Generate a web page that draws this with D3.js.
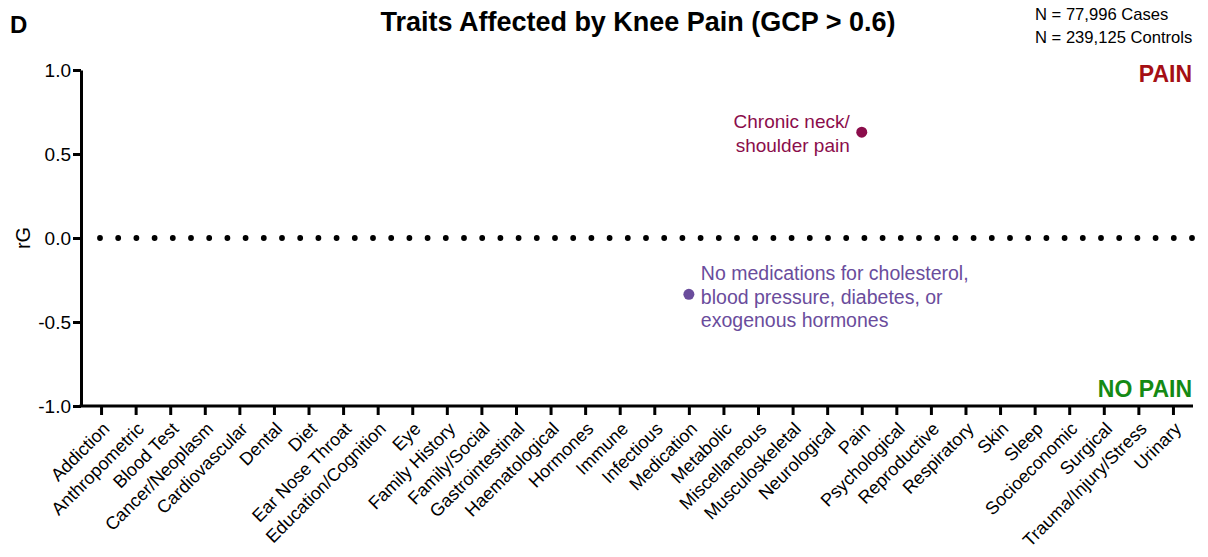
<!DOCTYPE html>
<html>
<head>
<meta charset="utf-8">
<script src="https://cdn.jsdelivr.net/npm/d3@7"></script>
<style>
  body { margin: 0; background: #fff; }
  svg { font-family: "Liberation Sans", Arial, sans-serif; }
</style>
</head>
<body>
<svg id="chart" width="1208" height="557"></svg>
<script>
// categories along the x axis
const categories = ["Addiction", "Anthropometric", "Blood Test", "Cancer/Neoplasm", "Cardiovascular",
  "Dental", "Diet", "Ear Nose Throat", "Education/Cognition", "Eye", "Family History",
  "Family/Social", "Gastrointestinal", "Haematological", "Hormones", "Immune", "Infectious",
  "Medication", "Metabolic", "Miscellaneous", "Musculoskeletal", "Neurological", "Pain",
  "Psychological", "Reproductive", "Respiratory", "Skin", "Sleep", "Socioeconomic", "Surgical",
  "Trauma/Injury/Stress", "Urinary"];

// significant traits (category, rG, label lines)
const traitCats = ["Pain", "Medication"];
const traitRg = [0.63, -0.335];
const traitLabels = [
  ["Chronic neck/", "shoulder pain"],
  ["No medications for cholesterol,", "blood pressure, diabetes, or", "exogenous hormones"]
];
const traitColors = ["#8b0d4b", "#6a4c9c"];

const yTicks = [1.0, 0.5, 0.0, -0.5, -1.0];

const svg = d3.select("#chart");
const mLeft = 81, mRight = 1193, mTop = 70, mBottom = 406;
const FONT = "Liberation Sans, Arial, sans-serif";

const x = d3.scalePoint().domain(categories).range([mLeft, mRight]).padding(0.58);
const y = d3.scaleLinear().domain([-1, 1]).range([mBottom, mTop]);

// y axis
const yAxis = svg.append("g")
  .attr("transform", `translate(${mLeft},0)`)
  .call(d3.axisLeft(y).tickValues(yTicks).tickFormat(d => d.toFixed(1)).tickSize(8).tickSizeOuter(0));
yAxis.select(".domain").attr("stroke", "#000").attr("stroke-width", 3);
yAxis.selectAll(".tick line").attr("stroke", "#000").attr("stroke-width", 3);
yAxis.selectAll(".tick text").attr("font-size", 19).attr("font-family", FONT)
  .attr("fill", "#000").attr("x", -10).attr("dy", "0.35em");

// x axis
const xAxis = svg.append("g")
  .attr("transform", `translate(0,${mBottom})`)
  .call(d3.axisBottom(x).tickSize(9).tickSizeOuter(0));
xAxis.select(".domain").attr("stroke", "#000").attr("stroke-width", 3)
  .attr("d", `M${mLeft - 1.5},0H${mRight}`);
xAxis.selectAll(".tick line").attr("stroke", "#000").attr("stroke-width", 3);
xAxis.selectAll(".tick text")
  .attr("font-size", 18).attr("font-family", FONT).attr("fill", "#000")
  .attr("text-anchor", "end").attr("dy", null).attr("y", null)
  .attr("transform", "translate(9,24) rotate(-45)");

// dotted zero line
svg.append("line")
  .attr("x1", mLeft + 19).attr("x2", mRight)
  .attr("y1", y(0)).attr("y2", y(0))
  .attr("stroke", "#000").attr("stroke-width", 5.8)
  .attr("stroke-linecap", "round").attr("stroke-dasharray", "0 18.2");

// points
traitCats.forEach((c, i) => {
  svg.append("circle")
    .attr("cx", x(c)).attr("cy", y(traitRg[i])).attr("r", 5.5)
    .attr("fill", traitColors[i]);
});

// labels
const t0 = svg.append("text")
  .attr("x", x(traitCats[0]) - 12).attr("y", y(traitRg[0]) - 4)
  .attr("text-anchor", "end").attr("font-size", 19).attr("fill", traitColors[0]);
traitLabels[0].forEach((l, j) => t0.append("tspan").attr("x", x(traitCats[0]) - 12)
  .attr("dy", j === 0 ? 0 : 24).text(l));

const t1 = svg.append("text")
  .attr("x", x(traitCats[1]) + 12).attr("y", y(traitRg[1]) - 14)
  .attr("font-size", 19.5).attr("fill", traitColors[1]);
traitLabels[1].forEach((l, j) => t1.append("tspan").attr("x", x(traitCats[1]) + 12)
  .attr("dy", j === 0 ? 0 : 23.5).text(l));

// y label
svg.append("text")
  .attr("transform", `translate(30,${y(0)}) rotate(-90)`)
  .attr("text-anchor", "middle").attr("font-size", 20).text("rG");

// title, panel letter, counts
svg.append("text").attr("x", 638).attr("y", 31).attr("text-anchor", "middle")
  .attr("font-size", 28).attr("font-weight", "bold")
  .attr("textLength", 515).attr("lengthAdjust", "spacingAndGlyphs")
  .text("Traits Affected by Knee Pain (GCP > 0.6)");
svg.append("text").attr("x", 10).attr("y", 33).attr("font-size", 24).attr("font-weight", "bold").text("D");
svg.append("text").attr("x", 1035).attr("y", 20).attr("font-size", 16.6).text("N = 77,996 Cases");
svg.append("text").attr("x", 1035).attr("y", 43).attr("font-size", 16.6).text("N = 239,125 Controls");

svg.append("text").attr("x", mRight - 1).attr("y", 82).attr("text-anchor", "end")
  .attr("font-size", 23).attr("font-weight", "bold").attr("fill", "#a50f15").text("PAIN");
svg.append("text").attr("x", mRight - 1).attr("y", 397).attr("text-anchor", "end")
  .attr("font-size", 23).attr("font-weight", "bold").attr("fill", "#148a14").text("NO PAIN");
</script>
</body>
</html>
